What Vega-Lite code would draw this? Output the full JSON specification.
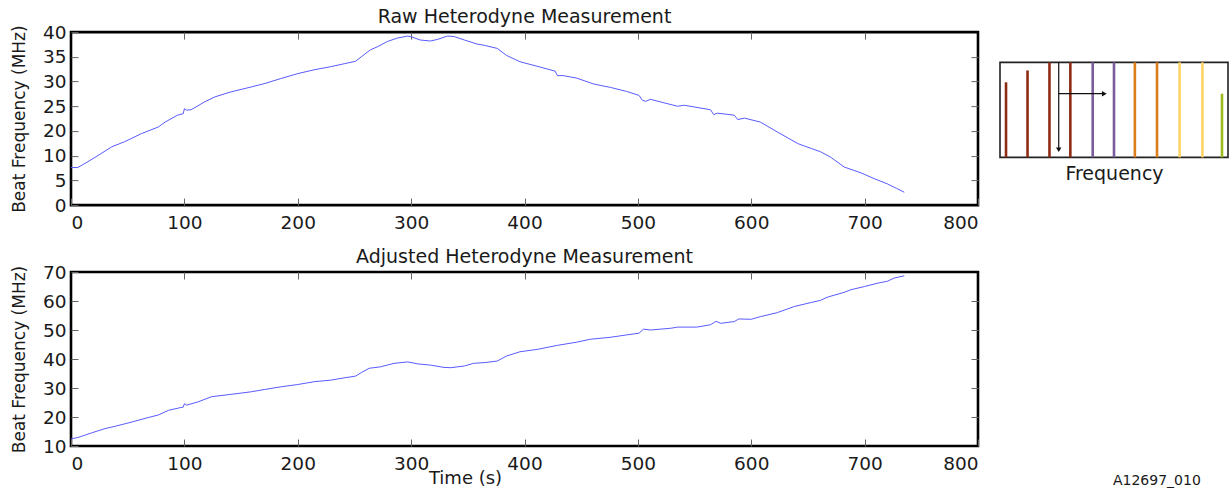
{
  "$schema": "https://vega.github.io/schema/vega-lite/v6.json",
  "background": "white",
  "padding": {"left": 9, "top": 6, "right": 2, "bottom": 0},
  "config": {
    "font": "DejaVu Sans",
    "view": {"stroke": "black", "strokeWidth": 2.6},
    "axis": {
      "domain": false,
      "grid": false,
      "labelFont": "DejaVu Sans",
      "labelFontSize": 18.5,
      "labelColor": "#1a1a1a",
      "titleFont": "DejaVu Sans",
      "titleFontSize": 17,
      "titleFontWeight": "normal",
      "titleColor": "#1a1a1a",
      "tickColor": "#666666",
      "tickSize": -7,
      "tickWidth": 1,
      "labelPadding": 12
    },
    "axisX": {"labelPadding": 15},
    "axisY": {"titlePadding": 14},
    "title": {"font": "DejaVu Sans", "fontSize": 19, "fontWeight": "normal", "color": "#1a1a1a"},
    "line": {"color": "#5a5aff", "strokeWidth": 1}
  },
  "datasets": {
    "raw": [
      {"time": 0, "beat": 7.6}, {"time": 6, "beat": 7.6}, {"time": 15, "beat": 8.8}, {"time": 24, "beat": 10.1},
      {"time": 36, "beat": 13.6}, {"time": 47, "beat": 15.6}, {"time": 53, "beat": 16.9}, {"time": 62, "beat": 18.9},
      {"time": 77, "beat": 20.8}, {"time": 83, "beat": 21.8}, {"time": 94, "beat": 23.2}, {"time": 99, "beat": 23.5},
      {"time": 100, "beat": 24.5}, {"time": 102, "beat": 24.2}, {"time": 106, "beat": 24.3}, {"time": 118, "beat": 25.9},
      {"time": 127, "beat": 26.9}, {"time": 141, "beat": 27.9}, {"time": 159, "beat": 28.9}, {"time": 171, "beat": 29.6},
      {"time": 185, "beat": 30.6}, {"time": 200, "beat": 31.6}, {"time": 215, "beat": 32.4}, {"time": 229, "beat": 33.0},
      {"time": 241, "beat": 33.6}, {"time": 251, "beat": 34.1}, {"time": 256, "beat": 35.0}, {"time": 264, "beat": 36.4},
      {"time": 270, "beat": 37.0}, {"time": 279, "beat": 38.1}, {"time": 288, "beat": 38.8}, {"time": 297, "beat": 39.2},
      {"time": 301, "beat": 39.0}, {"time": 308, "beat": 38.4}, {"time": 317, "beat": 38.2}, {"time": 323, "beat": 38.5},
      {"time": 332, "beat": 39.2}, {"time": 338, "beat": 39.1}, {"time": 347, "beat": 38.4}, {"time": 358, "beat": 37.6},
      {"time": 365, "beat": 37.3}, {"time": 376, "beat": 36.7}, {"time": 384, "beat": 35.3}, {"time": 396, "beat": 34.0},
      {"time": 411, "beat": 33.1}, {"time": 427, "beat": 32.1}, {"time": 429, "beat": 31.2}, {"time": 434, "beat": 31.2},
      {"time": 446, "beat": 30.7}, {"time": 461, "beat": 29.5}, {"time": 476, "beat": 28.8}, {"time": 490, "beat": 28.0},
      {"time": 501, "beat": 27.2}, {"time": 504, "beat": 26.2}, {"time": 507, "beat": 26.0}, {"time": 511, "beat": 26.4},
      {"time": 523, "beat": 25.7}, {"time": 535, "beat": 25.0}, {"time": 541, "beat": 25.2}, {"time": 564, "beat": 24.3},
      {"time": 567, "beat": 23.3}, {"time": 570, "beat": 23.6}, {"time": 585, "beat": 23.2}, {"time": 588, "beat": 22.3},
      {"time": 594, "beat": 22.6}, {"time": 608, "beat": 21.8}, {"time": 623, "beat": 19.6}, {"time": 641, "beat": 14.9},
      {"time": 653, "beat": 12.9}, {"time": 661, "beat": 11.6}, {"time": 670, "beat": 9.7}, {"time": 682, "beat": 7.7},
      {"time": 697, "beat": 6.5}, {"time": 709, "beat": 5.3}, {"time": 720, "beat": 4.3}, {"time": 728, "beat": 3.4},
      {"time": 735, "beat": 2.6}
    ],
    "adjusted": [
      {"time": 0, "beat": 12.5}, {"time": 6, "beat": 12.9}, {"time": 18, "beat": 14.5}, {"time": 30, "beat": 16.0},
      {"time": 39, "beat": 16.8}, {"time": 53, "beat": 18.2}, {"time": 68, "beat": 19.8}, {"time": 77, "beat": 20.7},
      {"time": 86, "beat": 22.3}, {"time": 96, "beat": 23.2}, {"time": 99, "beat": 23.4}, {"time": 100, "beat": 24.6},
      {"time": 102, "beat": 24.1}, {"time": 112, "beat": 25.2}, {"time": 124, "beat": 27.0}, {"time": 141, "beat": 27.8},
      {"time": 159, "beat": 28.7}, {"time": 171, "beat": 29.5}, {"time": 185, "beat": 30.4}, {"time": 200, "beat": 31.2},
      {"time": 215, "beat": 32.2}, {"time": 229, "beat": 32.7}, {"time": 241, "beat": 33.5}, {"time": 251, "beat": 34.1},
      {"time": 256, "beat": 35.3}, {"time": 263, "beat": 36.8}, {"time": 273, "beat": 37.3}, {"time": 285, "beat": 38.5},
      {"time": 297, "beat": 39.0}, {"time": 306, "beat": 38.3}, {"time": 317, "beat": 37.9}, {"time": 329, "beat": 37.1},
      {"time": 335, "beat": 37.0}, {"time": 347, "beat": 37.6}, {"time": 355, "beat": 38.5}, {"time": 366, "beat": 38.8},
      {"time": 376, "beat": 39.3}, {"time": 384, "beat": 41.0}, {"time": 396, "beat": 42.5}, {"time": 411, "beat": 43.3},
      {"time": 429, "beat": 44.7}, {"time": 446, "beat": 45.8}, {"time": 458, "beat": 46.8}, {"time": 476, "beat": 47.5},
      {"time": 490, "beat": 48.3}, {"time": 501, "beat": 48.9}, {"time": 505, "beat": 50.3}, {"time": 511, "beat": 50.0},
      {"time": 529, "beat": 50.6}, {"time": 535, "beat": 51.0}, {"time": 552, "beat": 51.0}, {"time": 564, "beat": 51.8},
      {"time": 569, "beat": 53.0}, {"time": 573, "beat": 52.3}, {"time": 585, "beat": 52.9}, {"time": 589, "beat": 53.8},
      {"time": 600, "beat": 53.7}, {"time": 608, "beat": 54.6}, {"time": 623, "beat": 56.0}, {"time": 638, "beat": 58.1},
      {"time": 653, "beat": 59.5}, {"time": 661, "beat": 60.2}, {"time": 667, "beat": 61.3}, {"time": 682, "beat": 63.0},
      {"time": 688, "beat": 63.9}, {"time": 700, "beat": 65.0}, {"time": 712, "beat": 66.2}, {"time": 720, "beat": 66.8},
      {"time": 726, "beat": 67.9}, {"time": 735, "beat": 68.7}
    ],
    "lines": [
      {"freq": 0.28, "amplitude": 0.79, "band": "a"},
      {"freq": 1.28, "amplitude": 0.915, "band": "a"},
      {"freq": 2.3, "amplitude": 1.0, "band": "a"},
      {"freq": 3.27, "amplitude": 1.0, "band": "a"},
      {"freq": 4.31, "amplitude": 1.0, "band": "b"},
      {"freq": 5.3, "amplitude": 1.0, "band": "b"},
      {"freq": 6.27, "amplitude": 1.0, "band": "c"},
      {"freq": 7.3, "amplitude": 1.0, "band": "c"},
      {"freq": 8.35, "amplitude": 1.0, "band": "d"},
      {"freq": 9.41, "amplitude": 1.0, "band": "d"},
      {"freq": 10.32, "amplitude": 0.67, "band": "e"}
    ],
    "arrows": [
      {"x": 2.73, "y": 1.0, "x2": 2.73, "y2": 0.08},
      {"x": 2.73, "y": 0.67, "x2": 4.8, "y2": 0.67}
    ],
    "heads": [
      {"x": 2.73, "y": 0.08, "dir": "down"},
      {"x": 4.85, "y": 0.67, "dir": "right"}
    ]
  },
  "title": {"text": "A12697_010", "orient": "bottom", "anchor": "end", "fontSize": 14, "offset": -14, "dx": -28},
  "spacing": 13,
  "vconcat": [
    {
      "hconcat": [
        {
          "width": 907,
          "height": 173,
          "title": {"text": "Raw Heterodyne Measurement", "offset": -4},
          "data": {"name": "raw"},
          "resolve": {"axis": {"x": "independent", "y": "independent"}},
          "layer": [
            {
              "mark": "line",
              "encoding": {
                "x": {"field": "time", "type": "quantitative", "scale": {"domain": [0, 800], "nice": false, "zero": false},
                      "axis": {"values": [0, 100, 200, 300, 400, 500, 600, 700, 800], "title": null}},
                "y": {"field": "beat", "type": "quantitative",
                      "scale": {"domain": [0, 10, 20, 40], "range": [173, 123.57, 98.86, 0], "nice": false, "zero": false},
                      "axis": {"values": [0, 5, 10, 20, 25, 30, 35, 40], "title": "Beat Frequency (MHz)"}}
              }
            },
            {
              "mark": {"type": "line", "opacity": 0},
              "encoding": {
                "x": {"field": "time", "type": "quantitative", "scale": {"domain": [0, 800], "nice": false, "zero": false},
                      "axis": {"orient": "top", "labels": false, "values": [100, 200, 300, 400, 500, 600, 700], "title": null}},
                "y": {"field": "beat", "type": "quantitative",
                      "scale": {"domain": [0, 10, 20, 40], "range": [173, 123.57, 98.86, 0], "nice": false, "zero": false},
                      "axis": {"orient": "right", "labels": false, "values": [5, 10, 20, 25, 30, 35], "title": null}}
              }
            }
          ]
        },
        {
          "width": 228,
          "height": 95,
          "view": {"stroke": "#222222", "strokeWidth": 1.6},
          "layer": [
            {
              "data": {"name": "lines"},
              "mark": {"type": "rule", "strokeWidth": 2.6},
              "encoding": {
                "x": {"field": "freq", "type": "quantitative", "scale": {"domain": [0, 10.6], "nice": false, "zero": false},
                      "axis": {"title": "Frequency", "labels": false, "ticks": true, "tickColor": "transparent", "tickSize": 44, "values": [0], "titleY": 7, "titleFontSize": 19}},
                "y": {"field": "amplitude", "type": "quantitative", "scale": {"domain": [0, 1], "nice": false}, "axis": null},
                "y2": {"datum": 0},
                "color": {"field": "band", "type": "nominal", "legend": null,
                          "scale": {"domain": ["a", "b", "c", "d", "e"], "range": ["#8e2c14", "#7a5b9c", "#dc7d1c", "#ffd466", "#9bbb1e"]}}
              }
            },
            {
              "data": {"name": "arrows"},
              "mark": {"type": "rule", "color": "#111111", "strokeWidth": 1.2},
              "encoding": {
                "x": {"field": "x", "type": "quantitative",
                      "axis": {"title": "Frequency", "labels": false, "ticks": true, "tickColor": "transparent", "tickSize": 44, "values": [0], "titleY": 7, "titleFontSize": 19}},
                "x2": {"field": "x2"},
                "y": {"field": "y", "type": "quantitative", "axis": null},
                "y2": {"field": "y2"}
              }
            },
            {
              "data": {"name": "heads"},
              "mark": {"type": "point", "filled": true, "color": "#111111", "size": 30, "opacity": 1},
              "encoding": {
                "x": {"field": "x", "type": "quantitative",
                      "axis": {"title": "Frequency", "labels": false, "ticks": true, "tickColor": "transparent", "tickSize": 44, "values": [0], "titleY": 7, "titleFontSize": 19}},
                "y": {"field": "y", "type": "quantitative", "axis": null},
                "shape": {"field": "dir", "type": "nominal", "legend": null,
                          "scale": {"domain": ["down", "right"], "range": ["triangle-down", "triangle-right"]}}
              }
            }
          ]
        }
      ],
      "spacing": 18,
      "center": true
    },
    {
      "width": 907,
      "height": 174,
      "title": {"text": "Adjusted Heterodyne Measurement", "offset": -4},
      "data": {"name": "adjusted"},
      "resolve": {"axis": {"x": "independent", "y": "independent"}},
      "layer": [
        {
          "mark": "line",
          "encoding": {
            "x": {"field": "time", "type": "quantitative", "scale": {"domain": [0, 800], "nice": false, "zero": false},
                  "axis": {"values": [0, 100, 200, 300, 400, 500, 600, 700, 800], "title": "Time (s)", "titleFontSize": 18, "titleX": 394, "titleY": 23}},
            "y": {"field": "beat", "type": "quantitative", "scale": {"domain": [10, 70], "nice": false, "zero": false},
                  "axis": {"values": [10, 20, 30, 40, 50, 60, 70], "title": "Beat Frequency (MHz)"}}
          }
        },
        {
          "mark": {"type": "line", "opacity": 0},
          "encoding": {
            "x": {"field": "time", "type": "quantitative", "scale": {"domain": [0, 800], "nice": false, "zero": false},
                  "axis": {"orient": "top", "labels": false, "values": [100, 200, 300, 400, 500, 600, 700], "title": null}},
            "y": {"field": "beat", "type": "quantitative", "scale": {"domain": [10, 70], "nice": false, "zero": false},
                  "axis": {"orient": "right", "labels": false, "values": [20, 30, 40, 50, 60], "title": null}}
          }
        }
      ]
    }
  ]
}
